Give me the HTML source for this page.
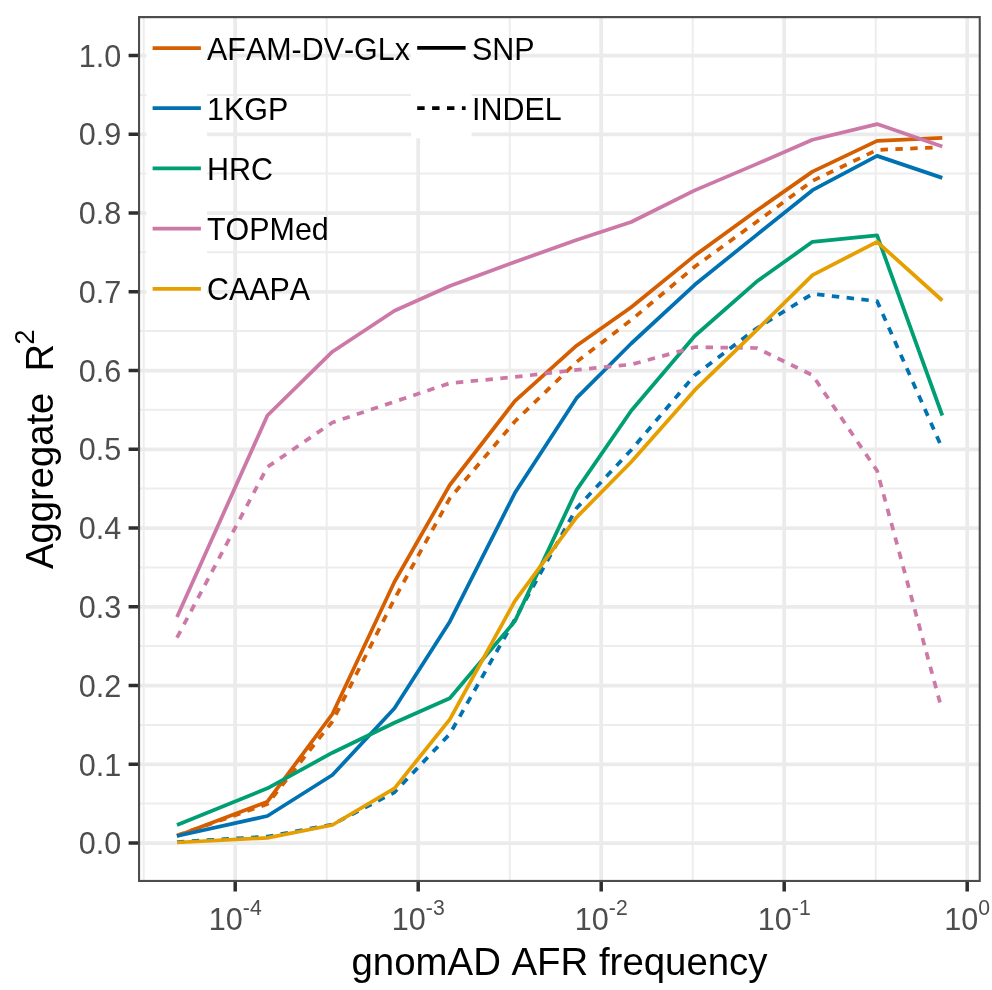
<!DOCTYPE html>
<html lang="en"><head><meta charset="utf-8"><title>Aggregate R2 vs gnomAD AFR frequency</title>
<style>html,body{margin:0;padding:0;background:#fff}svg{display:block}text{font-kerning:none;font-family:"Liberation Sans",Arial,Helvetica,sans-serif}</style></head><body>
<svg width="992" height="990" viewBox="0 0 992 990">
<rect width="992" height="990" fill="#fff"/>
<defs><clipPath id="pc"><rect x="138.0" y="16.1" width="842.8" height="865.9"/></clipPath></defs>
<g clip-path="url(#pc)">
<path d="M138.0 803.62H980.8M138.0 724.88H980.8M138.0 646.12H980.8M138.0 567.38H980.8M138.0 488.62H980.8M138.0 409.87H980.8M138.0 331.12H980.8M138.0 252.37H980.8M138.0 173.62H980.8M138.0 94.88H980.8M138.0 16.12H980.8M143.70 16.1V882.0M326.70 16.1V882.0M509.70 16.1V882.0M692.70 16.1V882.0M875.70 16.1V882.0" stroke="#ededed" stroke-width="2.0" fill="none"/>
<path d="M138.0 843.00H980.8M138.0 764.25H980.8M138.0 685.50H980.8M138.0 606.75H980.8M138.0 528.00H980.8M138.0 449.25H980.8M138.0 370.50H980.8M138.0 291.75H980.8M138.0 213.00H980.8M138.0 134.25H980.8M138.0 55.50H980.8M235.20 16.1V882.0M418.20 16.1V882.0M601.20 16.1V882.0M784.20 16.1V882.0M967.20 16.1V882.0" stroke="#ebebeb" stroke-width="3.75" fill="none"/>
<polyline points="177.0,836.0 267.4,801.7 332.4,714.0 394.5,581.7 449.8,485.0 514.8,401.2 576.5,345.7 631.2,307.2 694.7,255.6 756.4,210.8 812.5,171.6 877.1,140.9 942.3,137.9" fill="none" stroke="#D55E00" stroke-width="3.75" stroke-linejoin="round"/>
<polyline points="177.0,835.5 267.4,804.0 332.4,721.5 394.5,598.8 449.8,498.3 514.8,421.5 576.5,362.0 631.2,320.0 694.7,266.8 756.4,222.0 812.5,180.9 877.1,149.9 940.0,147.3" fill="none" stroke="#D55E00" stroke-width="3.75" stroke-linejoin="round" stroke-dasharray="7.441 7.441"/>
<polyline points="177.0,836.0 267.4,816.0 332.4,775.0 394.5,708.3 449.8,621.7 514.8,493.1 576.5,398.2 631.2,343.5 694.7,284.8 756.4,235.1 812.5,190.2 877.1,155.9 942.3,177.9" fill="none" stroke="#0072B2" stroke-width="3.75" stroke-linejoin="round"/>
<polyline points="177.0,842.0 267.4,836.6 332.4,824.5 394.5,792.3 449.8,734.0 514.8,619.5 576.5,508.3 631.2,450.0 694.7,375.2 756.4,328.5 812.5,293.8 877.1,301.2 940.0,443.4" fill="none" stroke="#0072B2" stroke-width="3.75" stroke-linejoin="round" stroke-dasharray="7.432 7.432"/>
<polyline points="177.0,825.0 267.4,788.3 332.4,752.7 394.5,722.7 449.8,698.3 514.8,621.4 576.5,490.1 631.2,410.7 694.7,336.0 756.4,281.8 812.5,241.8 877.1,235.4 942.3,415.5" fill="none" stroke="#009E73" stroke-width="3.75" stroke-linejoin="round"/>
<polyline points="177.0,617.0 267.4,415.5 332.4,351.7 394.5,310.7 449.8,286.0 514.8,262.0 576.5,240.0 631.2,222.0 694.7,190.4 756.4,164.1 812.5,139.8 877.1,124.1 942.3,146.5" fill="none" stroke="#CC79A7" stroke-width="3.75" stroke-linejoin="round"/>
<polyline points="177.0,637.6 267.4,467.0 332.4,422.5 394.5,401.7 449.8,383.2 514.8,377.0 576.5,369.9 631.2,364.5 694.7,347.2 756.4,348.0 812.5,375.2 877.1,470.7 940.0,702.6" fill="none" stroke="#CC79A7" stroke-width="3.75" stroke-linejoin="round" stroke-dasharray="7.440 7.440"/>
<polyline points="177.0,842.5 267.4,837.9 332.4,825.0 394.5,788.3 449.8,719.3 514.8,601.2 576.5,517.4 631.2,462.0 694.7,390.2 756.4,330.4 812.5,275.1 877.1,241.8 942.3,300.5" fill="none" stroke="#E69F00" stroke-width="3.75" stroke-linejoin="round"/>
<rect x="146.5" y="17.9" width="60.5" height="301" fill="#fff"/>
<rect x="411" y="17.9" width="60.6" height="120.4" fill="#fff"/>
<path d="M152.6 48.0H200.9" stroke="#D55E00" stroke-width="3.75"/>
<path d="M152.6 108.2H200.9" stroke="#0072B2" stroke-width="3.75"/>
<path d="M152.6 168.4H200.9" stroke="#009E73" stroke-width="3.75"/>
<path d="M152.6 228.6H200.9" stroke="#CC79A7" stroke-width="3.75"/>
<path d="M152.6 288.8H200.9" stroke="#E69F00" stroke-width="3.75"/>
<path d="M417.2 47.9H465.6" stroke="#000" stroke-width="3.75"/>
<path d="M417.2 108.1H465.6" stroke="#000" stroke-width="3.75" stroke-dasharray="7.45 7.45"/>
<rect x="138.0" y="16.1" width="842.8" height="865.9" fill="none" stroke="#4d4d4d" stroke-width="4.2"/>
</g>
<g font-size="30.45" fill="#000">
<text transform="translate(207,59.6) scale(1,1.045)">AFAM-DV-GLx</text>
<text transform="translate(207,119.8) scale(1,1.045)">1KGP</text>
<text transform="translate(207,180.0) scale(1,1.045)">HRC</text>
<text transform="translate(207,240.2) scale(1,1.045)">TOPMed</text>
<text transform="translate(207,300.4) scale(1,1.045)">CAAPA</text>
<text transform="translate(472,59.5) scale(1,1.045)">SNP</text><text transform="translate(472,119.7) scale(1,1.045)">INDEL</text>
</g>
<path d="M128.6 843.00H138.0M128.6 764.25H138.0M128.6 685.50H138.0M128.6 606.75H138.0M128.6 528.00H138.0M128.6 449.25H138.0M128.6 370.50H138.0M128.6 291.75H138.0M128.6 213.00H138.0M128.6 134.25H138.0M128.6 55.50H138.0M235.20 882.0V891.6M418.20 882.0V891.6M601.20 882.0V891.6M784.20 882.0V891.6M967.20 882.0V891.6" stroke="#2e2e2e" stroke-width="3.5" fill="none"/>
<g font-size="30.6" fill="#4d4d4d" text-anchor="end">
<text transform="translate(121.2,854.2) scale(1,1.05)">0.0</text>
<text transform="translate(121.2,775.5) scale(1,1.05)">0.1</text>
<text transform="translate(121.2,696.7) scale(1,1.05)">0.2</text>
<text transform="translate(121.2,618.0) scale(1,1.05)">0.3</text>
<text transform="translate(121.2,539.2) scale(1,1.05)">0.4</text>
<text transform="translate(121.2,460.4) scale(1,1.05)">0.5</text>
<text transform="translate(121.2,381.7) scale(1,1.05)">0.6</text>
<text transform="translate(121.2,302.9) scale(1,1.05)">0.7</text>
<text transform="translate(121.2,224.2) scale(1,1.05)">0.8</text>
<text transform="translate(121.2,145.4) scale(1,1.05)">0.9</text>
<text transform="translate(121.2,66.7) scale(1,1.05)">1.0</text>
</g>
<g font-size="30.6" fill="#4d4d4d">
<text transform="translate(208.8,930.3) scale(1,1.05)"><tspan>10</tspan><tspan font-size="21.2" dy="-14.6">-4</tspan></text>
<text transform="translate(391.8,930.3) scale(1,1.05)"><tspan>10</tspan><tspan font-size="21.2" dy="-14.6">-3</tspan></text>
<text transform="translate(574.8,930.3) scale(1,1.05)"><tspan>10</tspan><tspan font-size="21.2" dy="-14.6">-2</tspan></text>
<text transform="translate(757.8,930.3) scale(1,1.05)"><tspan>10</tspan><tspan font-size="21.2" dy="-14.6">-1</tspan></text>
<text transform="translate(944.3,930.3) scale(1,1.05)"><tspan>10</tspan><tspan font-size="21.2" dy="-14.6">0</tspan></text>
</g>
<text transform="translate(559.5,974.6) scale(1,1.02)" font-size="38.4" fill="#000" text-anchor="middle">gnomAD AFR frequency</text>
<text transform="translate(52.9,568.9) rotate(-90) scale(1,1.03)" font-size="38.2" fill="#000" xml:space="preserve" style="white-space:pre"><tspan>Aggregate  R</tspan><tspan font-size="27.5" dx="-1" dy="-18.6">2</tspan></text>
</svg></body></html>
